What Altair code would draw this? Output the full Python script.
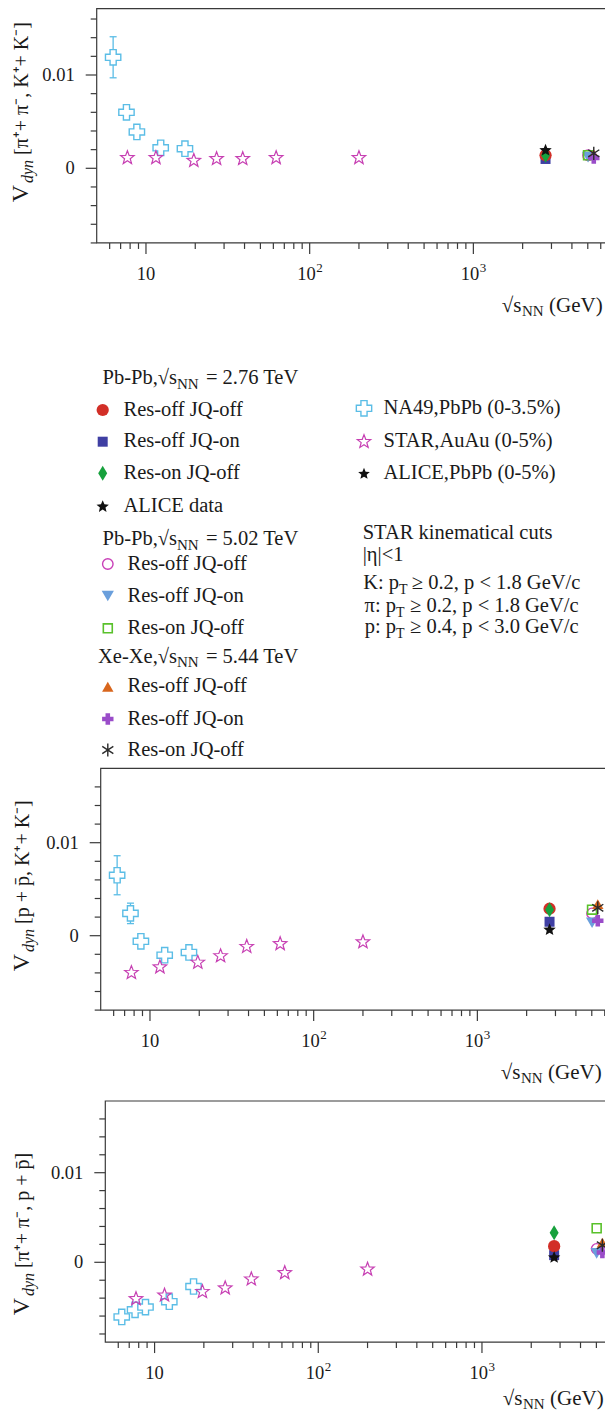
import math
import altair as alt
import pandas as pd

# ---------------- data ----------------
na49_x = [6.3, 7.6, 8.8, 12.3, 17.3]
star_x = [7.7, 11.5, 19.6, 27.0, 39.0, 62.4, 200.0]

series_keys = ["pb276_roff_jqoff", "pb276_roff_jqon", "pb276_ron_jqoff", "alice276",
               "pb502_roff_jqoff", "pb502_roff_jqon", "pb502_ron_jqoff",
               "xe544_roff_jqoff", "xe544_roff_jqon", "xe544_ron_jqoff"]
series_x = [2760, 2760, 2760, 2760, 5020, 5020, 5020, 5440, 5440, 5440]

# panel 1: V_dyn[pi, K]
p1_na49_y = [0.0119, 0.0060, 0.0039, 0.0022, 0.0021]
p1_na49_err = [0.0022, 0.0, 0.0, 0.0, 0.0]
p1_star_y = [0.0012, 0.0012, 0.0009, 0.0011, 0.0011, 0.0012, 0.0012]
p1_model_y = [0.0014, 0.0010, 0.0014, 0.0020, 0.0014, 0.0012, 0.0014, 0.0015, 0.0011, 0.0016]

# panel 2: V_dyn[p, K]
p2_na49_y = [0.0065, 0.0024, -0.0006, -0.0021, -0.0018]
p2_na49_err = [0.0021, 0.0011, 0.0, 0.0, 0.0]
p2_star_y = [-0.0039, -0.0033, -0.0028, -0.0021, -0.0011, -0.0008, -0.0006]
p2_model_y = [0.0029, 0.0015, 0.0028, 0.0007, 0.0024, 0.0014, 0.0028, 0.0034, 0.0016, 0.0030]

# panel 3: V_dyn[pi, p]
p3_na49_y = [-0.0061, -0.0053, -0.0050, -0.0044, -0.0027]
p3_na49_err = [0.0, 0.0, 0.0, 0.0, 0.0]
p3_star_y = [-0.0040, -0.0036, -0.0032, -0.0028, -0.0018, -0.0011, -0.0007]
p3_model_y = [0.0018, 0.0008, 0.0033, 0.0006, 0.0015, 0.0010, 0.0038, 0.0022, 0.0011, 0.0019]

x_major_ticks = [10, 100, 1000]
x_major_base = ["10", "10", "10"]
x_major_sup = ["", "2", "3"]
x_minor_ticks = [6, 7, 8, 9, 20, 30, 40, 50, 60, 70, 80, 90, 200, 300, 400, 500, 600, 700,
                 800, 900, 2000, 3000, 4000, 5000, 6000]
y_major_ticks = [0, 0.01]
y_major_labels = ["0", "0.01"]
y_minor_ticks = [-0.008, -0.006, -0.004, -0.002, 0.002, 0.004, 0.006, 0.008, 0.012, 0.014, 0.016]

legend_group_titles = ["Pb-Pb,√s", "Pb-Pb,√s", "Xe-Xe,√s"]
legend_group_energies = ["= 2.76 TeV", "= 5.02 TeV", "= 5.44 TeV"]
legend_left_labels = ["Res-off JQ-off", "Res-off JQ-on", "Res-on JQ-off", "ALICE data",
                      "Res-off JQ-off", "Res-off JQ-on", "Res-on JQ-off",
                      "Res-off JQ-off", "Res-off JQ-on", "Res-on JQ-off"]
legend_right_labels = ["NA49,PbPb (0-3.5%)", "STAR,AuAu (0-5%)", "ALICE,PbPb (0-5%)"]
cuts_lines_pre = ["K: p", "π: p", "p: p"]
cuts_lines_post = ["≥ 0.2, p < 1.8 GeV/c", "≥ 0.2, p < 1.8 GeV/c", "≥ 0.4, p < 3.0 GeV/c"]

# ---------------- styles & layout ----------------
FONT = "Liberation Serif"
AXC = "#3a3a3a"
TXT = "#1a1a1a"
NA49_C = "#5bbde6"
STAR_C = "#c740b3"
WT, HT = 597, 1404
PX, PY = 8, 8           # page position of the chart origin
XDOM = [5, 7000]
LFS = 20.5              # legend font size


def cx(page_x):
    return page_x - PX


def cy(page_y):
    return page_y - PY


def star_path(inner=0.42):
    pts = []
    for k in range(10):
        a = math.radians(-90 + 36 * k)
        r = 1.0 if k % 2 == 0 else inner
        pts.append("%.3f,%.3f" % (r * math.cos(a), r * math.sin(a) + 0.1))
    return "M" + "L".join(pts) + "Z"


STAR = star_path()
STAR_FILLED = star_path(0.45)

STYLES = {
    "pb276_roff_jqoff": ("circle", True, "#d22f27", 150, 1),
    "pb276_roff_jqon": ("square", True, "#3f3fa3", 100, 1),
    "pb276_ron_jqoff": ("M0,-1L0.6,0L0,1L-0.6,0Z", True, "#17a13d", 225, 1),
    "alice276": (STAR_FILLED, True, "#111111", 170, 1),
    "pb502_roff_jqoff": ("circle", False, "#c940b8", 110, 1.4),
    "pb502_roff_jqon": ("triangle-down", True, "#6a9fdc", 150, 1),
    "pb502_ron_jqoff": ("square", False, "#59c12b", 80, 1.6),
    "xe544_roff_jqoff": ("triangle-up", True, "#d8661d", 130, 1),
    "xe544_roff_jqon": ("cross", True, "#9a4cc9", 130, 1),
    "xe544_ron_jqoff": ("M0,-1L0,1M-0.85,-0.55L0.85,0.55M-0.85,0.55L0.85,-0.55", False, "#2b2b2b", 170, 1.4),
}

ONE = pd.DataFrame({"k": [0]})


def text(txt, x, y, size=20, angle=0, align="left", italic=False):
    return alt.Chart(pd.DataFrame({"t": [txt]})).mark_text(
        font=FONT, fontSize=size, angle=angle, align=align, baseline="alphabetic",
        fontStyle="italic" if italic else "normal", color=TXT
    ).encode(text="t:N", x=alt.value(x), y=alt.value(y))


def point_mark(key):
    shape, filled, color, size, sw = STYLES[key]
    if filled:
        return dict(shape=shape, filled=True, color=color, size=size, opacity=1)
    return dict(shape=shape, filled=False, color=color, size=size, strokeWidth=sw, opacity=1)


def panel(cfg):
    L = cx(cfg["left"])
    R = L + 515
    zero_y = cy(cfg["zero"])
    k = cfg["pxunit"]
    ylo, yhi = cfg["ydom"]
    B = zero_y - ylo * k
    Ytop = zero_y - yhi * k
    T = max(Ytop, 0.6)
    xs = alt.Scale(type="log", domain=XDOM, range=[L, R], nice=False)
    ys = alt.Scale(domain=cfg["ydom"], range=[B, Ytop], nice=False, zero=False)
    X = lambda f: alt.X(f, scale=xs, axis=None)
    Y = lambda f: alt.Y(f, scale=ys, axis=None)
    layers = []
    # frame
    layers.append(alt.Chart(ONE).mark_rect(fillOpacity=0, stroke=AXC, strokeWidth=1.2).encode(
        x=alt.value(L), x2=alt.value(R), y=alt.value(T), y2=alt.value(B)))
    # x ticks and labels (10, 10^2, 10^3)
    xmaj = pd.DataFrame({"v": x_major_ticks, "base": x_major_base, "sup": x_major_sup})
    xmin = pd.DataFrame({"v": x_minor_ticks})
    layers.append(alt.Chart(xmaj).mark_rule(color=AXC, strokeWidth=1.2).encode(
        x=X("v:Q"), y=alt.value(B), y2=alt.value(B + 11)))
    layers.append(alt.Chart(xmin).mark_rule(color=AXC, strokeWidth=1.2).encode(
        x=X("v:Q"), y=alt.value(B), y2=alt.value(B + 6)))
    plain = xmaj[xmaj["sup"] == ""]
    supd = xmaj[xmaj["sup"] != ""]
    layers.append(alt.Chart(plain).mark_text(font=FONT, fontSize=18.5, color=TXT, align="center",
                                             baseline="alphabetic").encode(
        x=X("v:Q"), y=alt.value(B + 37), text="base:N"))
    layers.append(alt.Chart(supd).mark_text(font=FONT, fontSize=18.5, color=TXT, align="right",
                                            baseline="alphabetic", dx=6).encode(
        x=X("v:Q"), y=alt.value(B + 37), text="base:N"))
    layers.append(alt.Chart(supd).mark_text(font=FONT, fontSize=13, color=TXT, align="left",
                                            baseline="alphabetic", dx=6.5).encode(
        x=X("v:Q"), y=alt.value(B + 29), text="sup:N"))
    # y ticks and labels
    ymaj = pd.DataFrame({"v": y_major_ticks, "lab": y_major_labels})
    ymin = pd.DataFrame({"v": y_minor_ticks})
    layers.append(alt.Chart(ymaj).mark_rule(color=AXC, strokeWidth=1.2).encode(
        y=Y("v:Q"), x=alt.value(L - 11), x2=alt.value(L)))
    layers.append(alt.Chart(ymin).mark_rule(color=AXC, strokeWidth=1.2).encode(
        y=Y("v:Q"), x=alt.value(L - 6), x2=alt.value(L)))
    layers.append(alt.Chart(ymaj).mark_text(font=FONT, fontSize=18.5, color=TXT, align="right",
                                            baseline="middle").encode(
        y=Y("v:Q"), x=alt.value(L - 22), text="lab:N"))

    na = pd.DataFrame({"x": na49_x, "y": cfg["na_y"], "e": cfg["na_err"]})
    na["lo"] = na["y"] - na["e"]
    na["hi"] = na["y"] + na["e"]
    nae = na[na["e"] > 0]
    if len(nae):
        layers.append(alt.Chart(nae).mark_rule(color=NA49_C, strokeWidth=1.3).encode(
            x=X("x:Q"), y=Y("lo:Q"), y2="hi:Q"))
        for c in ["lo", "hi"]:
            layers.append(alt.Chart(nae).mark_point(shape="stroke", size=49, strokeWidth=1.3,
                                                    filled=False, color=NA49_C, opacity=1).encode(
                x=X("x:Q"), y=Y(c + ":Q")))
    layers.append(alt.Chart(na).mark_point(shape="cross", filled=True, fill="white",
                                           stroke=NA49_C, strokeWidth=1.4, size=235,
                                           opacity=1).encode(x=X("x:Q"), y=Y("y:Q")))
    st = pd.DataFrame({"x": star_x, "y": cfg["st_y"]})
    layers.append(alt.Chart(st).mark_point(shape=STAR, filled=False, color=STAR_C,
                                           strokeWidth=1.2, size=200, opacity=1).encode(
        x=X("x:Q"), y=Y("y:Q")))
    for i in [1, 0, 2, 3, 4, 5, 6, 7, 8, 9]:
        df = pd.DataFrame({"x": [series_x[i]], "y": [cfg["mod_y"][i]]})
        layers.append(alt.Chart(df).mark_point(**point_mark(series_keys[i])).encode(
            x=X("x:Q"), y=Y("y:Q")))

    # y title (rotated, with subscript)
    tx = cx(cfg["title_x"])
    dy = cy(cfg["dyn_page"])
    layers.append(text("V", tx, dy + 1, size=24, angle=270, align="right"))
    layers.append(text("dyn", tx + 5, dy - 1, size=16, angle=270, italic=True))
    layers.append(text(cfg["rest"], tx, dy - 29, size=20, angle=270))
    # x title
    base = B + cfg["xt_dy"]
    nn = cx(cfg["nn_page"])
    layers.append(text("√s", nn - 0.5, base, size=21, align="right"))
    layers.append(text("NN", nn, base + 4, size=15))
    layers.append(text("(GeV)", nn + 27, base, size=21))
    return layers


def legend_layers():
    OY = cy(340)
    layers = []
    head_y = [44, 205, 322.7]
    for t, e, y in zip(legend_group_titles, legend_group_energies, head_y):
        layers.append(text(t, 169, OY + y, size=LFS, align="right"))
        layers.append(text("NN", 169, OY + y + 4.5, size=15))
        layers.append(text(e, 197.9, OY + y, size=LFS))
    row_y = [70, 101.7, 133.3, 166, 224, 256, 288.3, 346.7, 379, 410]
    for i, (lab, y) in enumerate(zip(legend_left_labels, row_y)):
        mx = 94.7 if i < 4 else 99.8
        tx = 115.5 if i < 4 else 119.5
        layers.append(alt.Chart(ONE).mark_point(**point_mark(series_keys[i])).encode(
            x=alt.value(mx), y=alt.value(OY + y)))
        layers.append(text(lab, tx, OY + y + 5.5, size=LFS))
    ry = [68.3, 101, 133.3]
    layers.append(alt.Chart(ONE).mark_point(shape="cross", filled=True, fill="white",
                                            stroke=NA49_C, strokeWidth=1.4, size=235,
                                            opacity=1).encode(
        x=alt.value(356), y=alt.value(OY + ry[0])))
    layers.append(alt.Chart(ONE).mark_point(shape=STAR, filled=False, color=STAR_C,
                                            strokeWidth=1.2, size=200, opacity=1).encode(
        x=alt.value(356), y=alt.value(OY + ry[1])))
    layers.append(alt.Chart(ONE).mark_point(shape=STAR_FILLED, filled=True, color="#111111",
                                            size=150, opacity=1).encode(
        x=alt.value(356), y=alt.value(OY + ry[2])))
    for lab, y in zip(legend_right_labels, ry):
        layers.append(text(lab, 375.5, OY + y + 5.7, size=LFS))
    layers.append(text("STAR kinematical cuts", 354.7, OY + 199, size=LFS))
    layers.append(text("|η|<1", 354.7, OY + 220.5, size=LFS))
    cut_y = [249.3, 271.7, 292.7]
    cut_t = [391, 388, 388]
    cut_post = [403.8, 402, 402]
    for pre, post, y, t0, p0 in zip(cuts_lines_pre, cuts_lines_post, cut_y, cut_t, cut_post):
        layers.append(text(pre, t0, OY + y, size=LFS, align="right"))
        layers.append(text("T", t0, OY + y + 5, size=14))
        layers.append(text(post, p0, OY + y, size=LFS))
    return layers


# panel geometry in reference-page pixels
cfg1 = dict(left=96.7, zero=168.3, pxunit=9330, ydom=[-0.008, 0.018],
            na_y=p1_na49_y, na_err=p1_na49_err, st_y=p1_star_y, mod_y=p1_model_y,
            title_x=28, dyn_page=184, rest="[π⁺+ π⁻, K⁺+ K⁻]", nn_page=522, xt_dy=69)
cfg2 = dict(left=100.7, zero=935.7, pxunit=9300, ydom=[-0.008, 0.018],
            na_y=p2_na49_y, na_err=p2_na49_err, st_y=p2_star_y, mod_y=p2_model_y,
            title_x=28.5, dyn_page=953, rest="[p + p\u0304, K⁺+ K⁻]", nn_page=521, xt_dy=69)
cfg3 = dict(left=105.3, zero=1262.3, pxunit=8960, ydom=[-0.0089, 0.018],
            na_y=p3_na49_y, na_err=p3_na49_err, st_y=p3_star_y, mod_y=p3_model_y,
            title_x=29, dyn_page=1297, rest="[π⁺+ π⁻, p + p\u0304]", nn_page=523, xt_dy=63)

all_layers = panel(cfg1) + legend_layers() + panel(cfg2) + panel(cfg3)

chart = alt.layer(*all_layers).resolve_scale(
    x="independent", y="independent"
).properties(
    width=WT, height=HT, padding=0, autosize=alt.AutoSizeParams(type="none")
).configure_view(strokeWidth=0)

chart.save("out.html", embed_options={"renderer": "svg", "actions": False})
